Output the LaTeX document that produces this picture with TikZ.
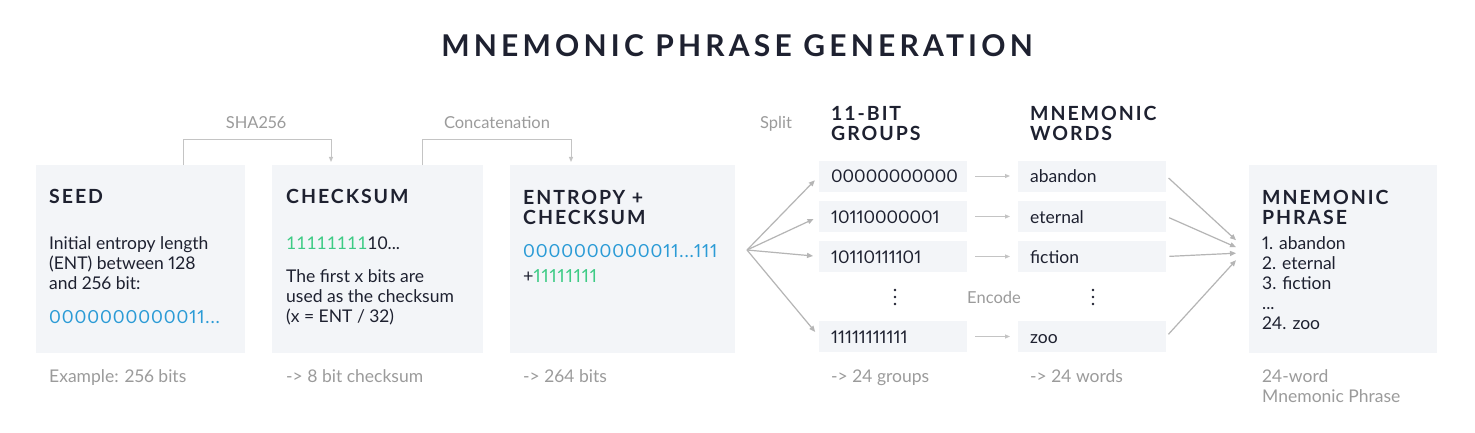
\documentclass[tikz,border=0pt]{standalone}
\usepackage{fontspec}
\setmainfont[Numbers=Proportional]{Lato}
\newfontfamily\headfont[LetterSpace=10]{Lato}
\newfontfamily\titlefont[LetterSpace=14]{Lato}
\newfontfamily\bitsfont[LetterSpace=5, Numbers=Proportional]{Lato}
\newfontfamily\tabfont[Numbers=Monospaced]{Lato}
\usetikzlibrary{arrows.meta, positioning, calc}
\definecolor{inkdark}{HTML}{1E2130}
\definecolor{panelgrey}{HTML}{F3F5F8}
\definecolor{labelgrey}{HTML}{9B9B9B}
\definecolor{bitblue}{HTML}{2B9BD6}
\definecolor{bitgreen}{HTML}{3DCB85}
\definecolor{arrowgrey}{HTML}{B5B5B5}

\begin{document}
\begin{tikzpicture}[
      x=1pt, y=-1pt,
      panel/.style={fill=panelgrey, minimum width=#1, minimum height=188pt, anchor=north west, inner sep=0pt},
      cell/.style={fill=panelgrey, minimum width=148pt, minimum height=31pt, anchor=west, inner xsep=12pt, inner ysep=0pt,
        text width=124pt, align=left, text height=13pt, text depth=0pt, font=\fontsize{17.5}{20}\selectfont, text=inkdark},
      head/.style={anchor=north west, inner sep=0pt, align=left, font=\headfont\bfseries\fontsize{19.5}{20}\selectfont, text=inkdark},
      body/.style={anchor=north west, inner sep=0pt, align=left, font=\fontsize{17.5}{20}\selectfont, text=inkdark},
      bits/.style={anchor=base west, inner sep=0pt, font=\bitsfont\fontsize{18}{20}\selectfont, text=bitblue},
      note/.style={anchor=north west, inner sep=0pt, align=left, font=\fontsize{17.5}{20}\selectfont, text=labelgrey},
      steplabel/.style={anchor=base, inner sep=0pt, font=\fontsize{16.5}{20}\selectfont, text=labelgrey},
      arr/.style={-{Triangle[length=6pt, width=5pt]}, arrowgrey, line width=1.2pt},
      thinarr/.style={-{Triangle[length=5pt, width=4pt]}, arrowgrey!80, line width=1pt}
    ]
      \fill[white] (0,0) rectangle (1475,433);
      \useasboundingbox (0,0) rectangle (1475,433);

      % Title
      \node[anchor=base, inner sep=0pt, font=\titlefont\bfseries\fontsize{30}{36}\selectfont, text=inkdark] (title) at (737,57) {MNEMONIC PHRASE GENERATION};

      % Seed
      \node[panel=209pt] (seed) at (36,165) {};
      \node[head] (seedhead) at (49,189) {SEED};
      \node[body] (seedtext) at (49,236) {Initial entropy length\\(ENT) between 128\\and 256 bit:};
      \node[bits] (seedbits) at (49,323.5) {0000000000011...};
      \node[note] (seednote) at (49,369.5) {Example: 256 bits};

      % Checksum
      \node[panel=211pt] (checksum) at (272,165) {};
      \node[head] (checkhead) at (286,189) {CHECKSUM};
      \node[body, anchor=base west, font=\tabfont\fontsize{17.5}{20}\selectfont] (checkbits) at (286,249.5) {\textcolor{bitgreen}{11111111}10...};
      \node[body] (checktext) at (286,269.5) {The first x bits are\\used as the checksum\\(x = ENT / 32)};
      \node[note] (checknote) at (286,369.5) {-> 8 bit checksum};

      % Entropy + checksum
      \node[panel=225pt] (entropy) at (510,165) {};
      \node[head] (entrohead) at (523,190) {ENTROPY +\\CHECKSUM};
      \node[bits] (entrobits) at (523,257.5) {0000000000011...111};
      \node[bits, text=inkdark] (entroplus) at (523,282.5) {+\textcolor{bitgreen}{11111111}};
      \node[note] (entronote) at (523,369.5) {-> 264 bits};

      % 11-bit groups
      \node[head] (grouphead) at (831,106) {11-BIT\\GROUPS};
      \node[cell] (g1) at (819,176) {00000000000};
      \node[cell] (g2) at (819,216.5) {10110000001};
      \node[cell] (g3) at (819,256.5) {10110111101};
      \node[cell] (g4) at (819,336.5) {11111111111};
      \node[note] (groupnote) at (831,369.5) {-> 24 groups};

      % Mnemonic words
      \node[head] (wordhead) at (1030,106) {MNEMONIC\\WORDS};
      \node[cell] (w1) at (1018,176) {abandon};
      \node[cell] (w2) at (1018,216.5) {eternal};
      \node[cell] (w3) at (1018,256.5) {fiction};
      \node[cell] (w4) at (1018,336.5) {zoo};
      \node[note] (wordnote) at (1030,369.5) {-> 24 words};

      % Mnemonic phrase
      \node[panel=188pt] (phrase) at (1249,165) {};
      \node[head] (phrasehead) at (1262,190) {MNEMONIC\\PHRASE};
      \node[body] (phraselist) at (1262,236) {1. abandon\\2. eternal\\3. fiction\\...\\24. zoo};
      \node[note] (phrasenote) at (1262,369.5) {24-word\\Mnemonic Phrase};

      % Step labels
      \node[steplabel] (sha) at (256,129) {SHA256};
      \node[steplabel] (concat) at (497,129) {Concatenation};
      \node[steplabel] (split) at (776,129) {Split};
      \node[steplabel] (encode) at (994,303) {Encode};

      % Vertical dots
      \foreach \dx in {895,1093}
        \foreach \dy in {290,297,304}
          \fill[inkdark] (\dx,\dy) circle (1.4pt);

      % Arrows
      \draw[thinarr, shorten >=3pt] ([xshift=147pt]seed.north west) -- ++(0,-25) -| ([xshift=59pt]checksum.north west);
      \draw[thinarr, shorten >=3pt] ([xshift=150pt]checksum.north west) -- ++(0,-25) -| ([xshift=61pt]entropy.north west);
      \coordinate (fork) at (747,250);
      \foreach \g in {g1,g2,g3,g4}
        \draw[arr, shorten >=6pt] (fork) -- (\g.west);
      \foreach \n in {1,2,3,4}
        \draw[thinarr, shorten <=8pt, shorten >=8pt] (g\n) -- (w\n);
      \draw[arr, shorten <=3pt] (w1.east) -- ([xshift=-13pt, yshift=19pt]phrase.west);
      \draw[arr, shorten <=3pt] (w2.east) -- ([xshift=-13pt, yshift=12pt]phrase.west);
      \draw[arr, shorten <=3pt] (w3.east) -- ([xshift=-13pt, yshift=6pt]phrase.west);
      \draw[arr, shorten <=3pt] (w4.east) -- ([xshift=-13pt, yshift=-1pt]phrase.west);
    \end{tikzpicture}
\end{document}
